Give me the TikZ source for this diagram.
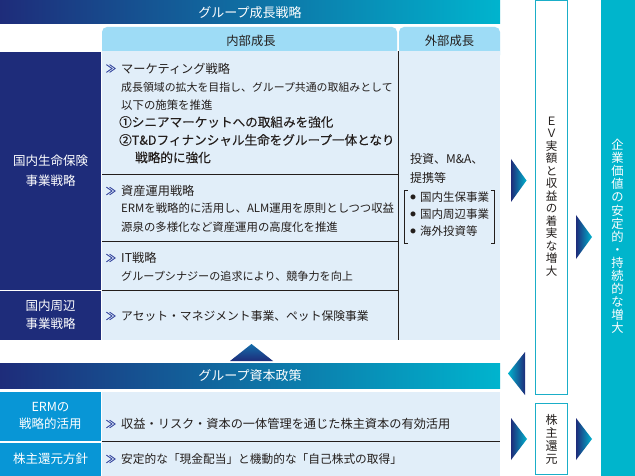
\documentclass[tikz,border=0pt]{standalone}
\usepackage{fontspec}
\setmainfont{Noto Sans CJK JP}
\newfontfamily\jpmed[FakeBold=0.15]{Noto Sans CJK JP}
\newfontfamily\jpchev[FakeBold=0.6]{Noto Sans CJK JP}
\definecolor{navy}{RGB}{30,44,122}
\definecolor{cyanb}{RGB}{0,180,206}
\definecolor{cyanR}{RGB}{0,181,204}
\definecolor{subc}{RGB}{158,220,246}
\definecolor{bodyc}{RGB}{225,238,249}
\definecolor{blueL}{RGB}{8,150,214}
\definecolor{boxc}{RGB}{26,174,200}
\definecolor{ink}{RGB}{35,30,28}
\definecolor{chevc}{RGB}{50,66,156}
\definecolor{upTop}{RGB}{20,110,170}
\begin{document}
\begin{tikzpicture}[x=1pt,y=-1pt,
  txt/.style={inner sep=0pt, text=ink},
  bodytxt/.style={txt, anchor=west, font=\fontsize{11.4}{13}\selectfont},
  headtxt/.style={txt, anchor=west, font=\fontsize{12.2}{14}\selectfont},
  medtxt/.style={txt, anchor=west, font=\jpmed\fontsize{12.6}{14}\selectfont},
  chev/.style={inner sep=0pt, text=chevc, font=\jpchev\fontsize{10.5}{10}\selectfont},
  wtxt/.style={inner sep=0pt, text=white, align=center, font=\fontsize{12.5}{20}\selectfont},
  sepline/.style={draw=ink, line width=0.7pt},
  tri/.style={left color=navy, right color=cyanb},
  vbox/.style={draw=boxc, line width=0.9pt, fill=white},
]
\useasboundingbox (0,0) rectangle (635,476);
\fill[white] (0,0) rectangle (635,476);

% ---- top header
\shade[left color=navy, right color=cyanb] (0,0) rectangle (500,24);
\node[wtxt, font=\fontsize{13}{15}\selectfont] (hdr) at (250,12.5) {グループ成長戦略};

% ---- sub headers
\fill[subc, rounded corners=5pt] (102,27) rectangle (397,60);
\fill[subc, rounded corners=5pt] (399,27) rectangle (500,60);
\node[txt, font=\fontsize{12.3}{14}\selectfont] (inner) at (251,41) {内部成長};
\node[txt, font=\fontsize{12.3}{14}\selectfont] (outer) at (449.5,41) {外部成長};

% ---- body
\fill[bodyc] (102,51.5) rectangle (500,340);
\fill[navy] (0,52) rectangle (101,289.8);
\fill[navy] (0,291.2) rectangle (101,340);
\draw[sepline] (102,174.5) -- (398,174.5);
\draw[sepline] (102,241) -- (398,241);
\draw[sepline] (102,290.5) -- (398,290.5);
\draw[sepline] (398,51.5) -- (398,340);

\node[wtxt] (l1) at (50.5,171) {国内生命保険\\事業戦略};
\node[wtxt, font=\fontsize{12.5}{18}\selectfont] (l2) at (50.5,315) {国内周辺\\事業戦略};

% marketing
\node[chev] (c1) at (111,68.5) {≫};
\node[headtxt] (m0) at (121,68.5) {マーケティング戦略};
\node[bodytxt, font=\fontsize{10.9}{13}\selectfont] (m1) at (121,87) {成長領域の拡大を目指し、グループ共通の取組みとして};
\node[bodytxt] (m2) at (121,105) {以下の施策を推進};
\node[medtxt] (m3) at (119,122) {①シニアマーケットへの取組みを強化};
\node[medtxt] (m4) at (119,140) {②T\&Dフィナンシャル生命をグループ一体となり};
\node[medtxt] (m5) at (135,157.5) {戦略的に強化};
% asset management
\node[chev] (c2) at (111,191) {≫};
\node[headtxt] (a0) at (121,191) {資産運用戦略};
\node[bodytxt] (a1) at (121,208) {ERMを戦略的に活用し、ALM運用を原則としつつ収益};
\node[bodytxt] (a2) at (121,227) {源泉の多様化など資産運用の高度化を推進};
% IT
\node[chev] (c3) at (111,258) {≫};
\node[headtxt] (i0) at (121,258) {IT戦略};
\node[bodytxt, font=\fontsize{11.1}{13}\selectfont] (i1) at (121,276) {グループシナジーの追求により、競争力を向上};
% periphery
\node[chev] (c4) at (111,316) {≫};
\node[headtxt, font=\fontsize{11.8}{14}\selectfont] (p0) at (121,316) {アセット・マネジメント事業、ペット保険事業};

% outer growth
\node[txt, anchor=west, font=\fontsize{12}{14}\selectfont] (o1) at (410,159) {投資、M\&A、};
\node[txt, anchor=west, font=\fontsize{12}{14}\selectfont] (o2) at (410,178) {提携等};
\draw[ink, line width=0.8pt] (407.5,190) -- (404,190) -- (404,243) -- (407.5,243);
\draw[ink, line width=0.8pt] (490.5,190) -- (494,190) -- (494,243) -- (490.5,243);
\node[txt, font=\fontsize{5.5}{6}\selectfont] (b1) at (413,197) {●};
\node[txt, font=\fontsize{5.5}{6}\selectfont] (b2) at (413,214) {●};
\node[txt, font=\fontsize{5.5}{6}\selectfont] (b3) at (413,231) {●};
\node[txt, anchor=west, font=\fontsize{11.5}{14}\selectfont] (o3) at (420,197) {国内生保事業};
\node[txt, anchor=west, font=\fontsize{11.5}{14}\selectfont] (o4) at (420,214) {国内周辺事業};
\node[txt, anchor=west, font=\fontsize{11.5}{14}\selectfont] (o5) at (420,231) {海外投資等};

% ---- capital policy
\shade[top color=upTop, bottom color=navy] (230,361) -- (273,361) -- (251.5,344) -- cycle;
\shade[left color=navy, right color=cyanb] (0,363) rectangle (500,388);
\node[wtxt, font=\fontsize{13}{15}\selectfont] (cap) at (250,376) {グループ資本政策};

\fill[blueL] (0,392) rectangle (101,441);
\fill[blueL] (0,442.5) rectangle (101,476);
\fill[bodyc] (102,392) rectangle (500,476);
\draw[sepline] (102,441.5) -- (500,441.5);
\node[wtxt, font=\fontsize{12.5}{16.5}\selectfont] (erm) at (50.5,416) {ERMの\\戦略的活用};
\node[wtxt] (ret) at (50.5,459) {株主還元方針};
\node[chev] (c5) at (111,424) {≫};
\node[headtxt, font=\fontsize{12.2}{14}\selectfont] (e1) at (121,424) {収益・リスク・資本の一体管理を通じた株主資本の有効活用};
\node[chev] (c6) at (111,459) {≫};
\node[headtxt, font=\fontsize{11.7}{14}\selectfont] (r1) at (121,459) {安定的な「現金配当」と機動的な「自己株式の取得」};

% ---- right side
\draw[vbox] (535.5,0.5) rectangle (567.5,394);
\draw[vbox] (535.5,403) rectangle (567.5,474);
\fill[cyanR] (601,0) rectangle (635,476);

\node[txt, align=center, font=\fontsize{11.5}{12.5}\selectfont] (ev) at (551.5,196.5)
  {Ｅ\\Ｖ\\実\\額\\と\\収\\益\\の\\着\\実\\な\\増\\大};
\node[txt, align=center, font=\fontsize{12}{13}\selectfont] (sr) at (551.5,439)
  {株\\主\\還\\元};
\node[wtxt, font=\fontsize{12.3}{13.1}\selectfont] (cv) at (617.5,236.5)
  {企\\業\\価\\値\\の\\安\\定\\的\\・\\持\\続\\的\\な\\増\\大};

% arrows
\shade[tri] (511,159) -- (511,202) -- (526.5,180.5) -- cycle;
\shade[tri] (576,215) -- (576,259) -- (592,237) -- cycle;
\shade[tri] (511,418) -- (511,460) -- (527,439) -- cycle;
\shade[tri] (576,418) -- (576,460) -- (592,439) -- cycle;
\shade[left color=cyanb, right color=navy] (525,352) -- (525,395) -- (508,373.5) -- cycle;
\end{tikzpicture}
\end{document}
